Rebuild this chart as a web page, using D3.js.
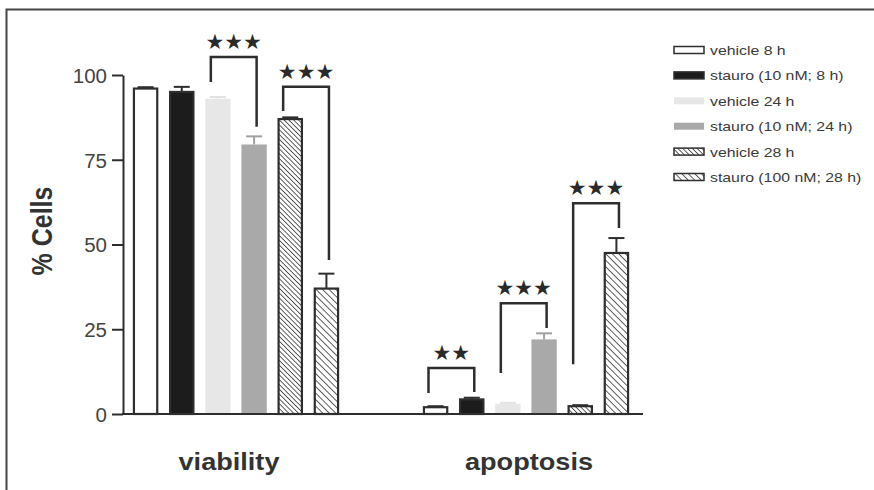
<!DOCTYPE html>
<html><head><meta charset="utf-8">
<script src="https://cdn.jsdelivr.net/npm/d3@7"></script>
<style>body{margin:0;background:#fff}svg{display:block}</style>
</head><body>
<svg id="c" width="874" height="490"></svg>
<script>
// ---- data ----
const groups = ["viability", "apoptosis"];
const series = ["vehicle 8 h", "stauro (10 nM; 8 h)", "vehicle 24 h", "stauro (10 nM; 24 h)", "vehicle 28 h", "stauro (100 nM; 28 h)"];
const viabilityValues = [96.0, 95.0, 93.0, 79.5, 87.0, 37.0];
const viabilityErrors = [0.4, 1.5, 0.5, 2.4, 0.5, 4.4];
const apoptosisValues = [2.0, 4.3, 3.0, 22.0, 2.3, 47.5];
const apoptosisErrors = [0.3, 0.5, 0.3, 1.8, 0.3, 4.4];
const yTicks = [0, 25, 50, 75, 100];
// significance brackets: group, left series idx, right series idx, top, left-leg end, right-leg end, label
const bracketGroup = ["viability", "viability", "apoptosis", "apoptosis", "apoptosis"];
const bracketLeft = [2, 4, 0, 2, 4];
const bracketRight = [3, 5, 1, 3, 5];
const bracketTop = [105.3, 96.5, 13.6, 32.7, 62.2];
const bracketLeftEnd = [97.9, 89.4, 6.2, 12.1, 14.7];
const bracketRightEnd = [84.7, 45.4, 6.5, 25.4, 54.9];
const bracketLabel = ["★★★", "★★★", "★★", "★★★", "★★★"];

// ---- styles ----
const dark = "#2e2e2e";
const fills = ["#ffffff", "#1c1c1c", "#e7e7e7", "#a9a9a9", "url(#hatchDense)", "url(#hatchSparse)"];
const strokes = [dark, dark, "none", "none", dark, dark];
const errColors = [dark, dark, "#e2e2e2", "#a0a0a0", dark, dark];
const labelShift = [-7, 3];

const svg = d3.select("#c");
const defs = svg.append("defs");
function hatch(id, gap, w) {
  const p = defs.append("pattern").attr("id", id).attr("patternUnits", "userSpaceOnUse")
    .attr("width", gap).attr("height", gap).attr("patternTransform", "rotate(-45)");
  p.append("rect").attr("width", gap).attr("height", gap).attr("fill", "#fff");
  p.append("line").attr("x1", 0).attr("y1", 0).attr("x2", 0).attr("y2", gap)
    .attr("stroke", "#2a2a2a").attr("stroke-width", w);
}
hatch("hatchDense", 3.4, 1.5);
hatch("hatchSparse", 4.6, 1.5);

// frame
svg.append("path").attr("d", "M6.5,490 L6.5,9.5 L874,9.5").attr("fill", "none")
  .attr("stroke", "#444").attr("stroke-width", 2);

const y = d3.scaleLinear().domain([0, 100]).range([414, 75]);
const x0 = d3.scaleBand().domain(groups).range([127.5, 634.5]).paddingInner(0.2517).paddingOuter(0);
const x1 = d3.scaleBand().domain(series).range([0, x0.bandwidth()]).paddingInner(0.3).paddingOuter(0.15);

const valuesByGroup = {viability: viabilityValues, apoptosis: apoptosisValues};
const errorsByGroup = {viability: viabilityErrors, apoptosis: apoptosisErrors};
const barData = [];
groups.forEach(g => series.forEach((s, i) => barData.push({g, s, i, v: valuesByGroup[g][i], e: errorsByGroup[g][i]})));

// error bars (upper)
const eb = svg.append("g");
barData.forEach(d => {
  const cx = x0(d.g) + x1(d.s) + x1.bandwidth() / 2;
  eb.append("line").attr("x1", cx).attr("x2", cx).attr("y1", y(d.v)).attr("y2", y(d.v + d.e))
    .attr("stroke", errColors[d.i]).attr("stroke-width", 2);
  eb.append("line").attr("x1", cx - 8).attr("x2", cx + 8).attr("y1", y(d.v + d.e)).attr("y2", y(d.v + d.e))
    .attr("stroke", errColors[d.i]).attr("stroke-width", 2);
});

// bars
svg.append("g").selectAll("rect").data(barData).join("rect")
  .attr("x", d => x0(d.g) + x1(d.s) + (strokes[d.i] === "none" ? 0 : 1))
  .attr("y", d => y(d.v))
  .attr("width", d => x1.bandwidth() - (strokes[d.i] === "none" ? 0 : 2))
  .attr("height", d => y(0) - y(d.v))
  .attr("fill", d => fills[d.i])
  .attr("stroke", d => strokes[d.i])
  .attr("stroke-width", 2.2);

// axes
const yAxis = svg.append("g").attr("transform", "translate(123,0)")
  .call(d3.axisLeft(y).tickValues(yTicks).tickSize(11).tickSizeOuter(0).tickPadding(5));
yAxis.select(".domain").attr("stroke", dark).attr("stroke-width", 2);
yAxis.selectAll(".tick line").attr("stroke", dark).attr("stroke-width", 2);
yAxis.selectAll(".tick text").attr("font-family", "Liberation Sans, Arial, sans-serif")
  .attr("font-size", 20.5).attr("fill", "#444").attr("dy", "0.36em");

svg.append("line").attr("x1", 122).attr("x2", 643).attr("y1", y(0)).attr("y2", y(0))
  .attr("stroke", dark).attr("stroke-width", 2);

// brackets
const br = svg.append("g");
bracketGroup.forEach((g, k) => {
  const lx = x0(g) + x1(series[bracketLeft[k]]) + x1.bandwidth() * 0.22;
  const rx = x0(g) + x1(series[bracketRight[k]]) + x1.bandwidth() * 0.6;
  br.append("path")
    .attr("d", `M${lx},${y(bracketLeftEnd[k])} L${lx},${y(bracketTop[k])} L${rx},${y(bracketTop[k])} L${rx},${y(bracketRightEnd[k])}`)
    .attr("fill", "none").attr("stroke", dark).attr("stroke-width", 2.5);
  br.append("text").attr("x", (lx + rx) / 2).attr("y", y(bracketTop[k]) - 8)
    .attr("text-anchor", "middle").attr("font-family", "DejaVu Sans, sans-serif")
    .attr("font-size", 21).attr("fill", "#2a2a2a")
    .text(bracketLabel[k]);
});

// category labels
groups.forEach((g, k) => {
  const cx = x0(g) + x0.bandwidth() / 2 + labelShift[k];
  svg.append("text").attr("transform", `translate(${cx},470) scale(1.13,1)`)
    .attr("text-anchor", "middle").attr("font-family", "Liberation Sans, Arial, sans-serif")
    .attr("font-weight", "bold").attr("font-size", 24).attr("fill", "#333").text(g);
});

// y label
svg.append("text").attr("transform", "translate(52,231) rotate(-90) scale(1,1.15)")
  .attr("text-anchor", "middle").attr("font-family", "Liberation Sans, Arial, sans-serif")
  .attr("font-weight", "bold").attr("font-size", 25).attr("fill", "#333").text("% Cells");

// legend
const lg = svg.append("g");
series.forEach((s, i) => {
  const cy = 50 + i * 25.4;
  lg.append("rect").attr("x", 674).attr("y", cy - 3.5).attr("width", 30).attr("height", 7)
    .attr("fill", fills[i]).attr("stroke", strokes[i]).attr("stroke-width", 1.5);
  lg.append("text").attr("transform", `translate(710,${cy + 5}) scale(1.19,1)`)
    .attr("font-family", "Liberation Sans, Arial, sans-serif").attr("font-size", 13.3)
    .attr("fill", "#3a3a3a").text(s);
});
</script>
</body></html>
